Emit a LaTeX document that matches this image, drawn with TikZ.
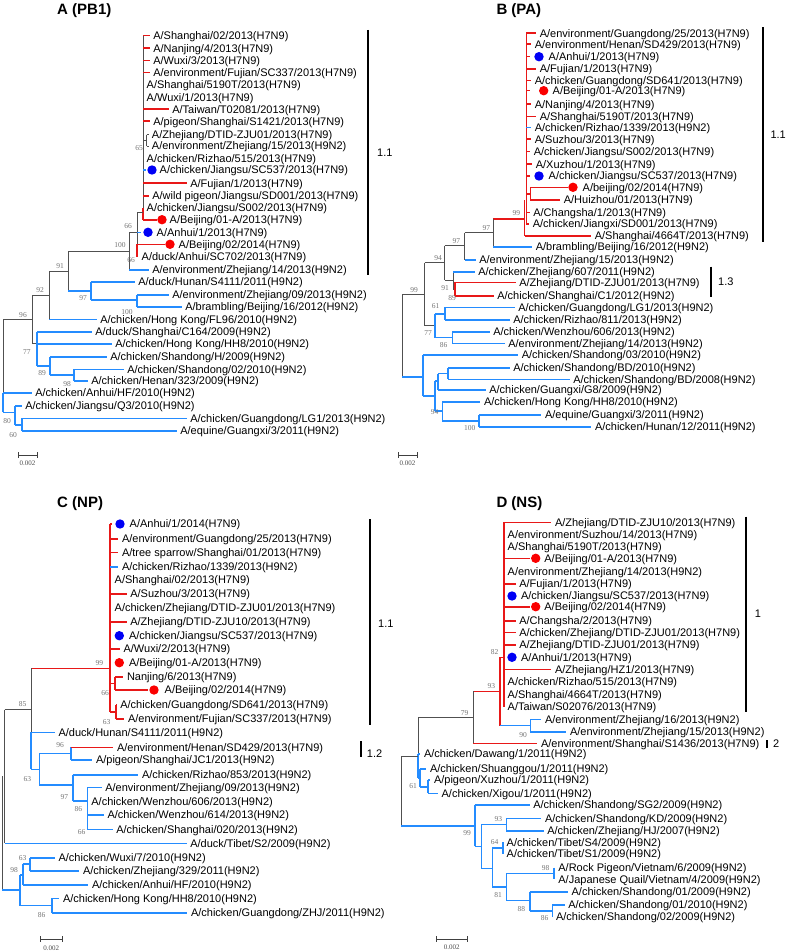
\documentclass[tikz,border=0pt]{standalone}
\usepackage{fontspec}
\setmainfont{Liberation Sans}
\newfontfamily\bootfont{Liberation Serif}
\definecolor{clRed}{RGB}{232,24,24}
\definecolor{clBlue}{RGB}{36,140,255}
\definecolor{clGray}{RGB}{80,80,80}
\definecolor{dotRed}{RGB}{250,0,0}
\definecolor{dotBlue}{RGB}{0,0,245}

\begin{document}
\begin{tikzpicture}[
  x=1pt, y=-1pt,
  lab/.style={anchor=west, inner xsep=3pt, inner ysep=0pt, text height=7.8pt, text depth=0pt, font=\fontsize{11}{12}\selectfont},
  ttl/.style={anchor=west, inner sep=0pt, font=\fontsize{15}{18}\selectfont\bfseries},
  boot/.style={inner sep=0pt, text=black!55, font=\bootfont\fontsize{7.5}{8}\selectfont},
  rb/.style={draw=clRed, line width=1.6pt},
  bb/.style={draw=clBlue, line width=1.6pt},
  gb/.style={draw=clGray, line width=0.9pt},
  rdot/.style={circle, fill=dotRed, inner sep=0pt, minimum size=9.4pt},
  bdot/.style={circle, fill=dotBlue, inner sep=0pt, minimum size=9.4pt},
  cbar/.style={draw=black, line width=1.7pt},
  clab/.style={anchor=west, inner sep=0pt, font=\fontsize{11}{12}\selectfont},
  sbar/.style={draw=black!75, line width=0.8pt},
  slab/.style={inner sep=0pt, text=black!70, font=\bootfont\fontsize{7}{8}\selectfont}
]
\useasboundingbox (0,0) rectangle (787,952);

\node[ttl] (titleA) at (57,11) {A (PB1)};

\draw[gb] (143,35.7) -- (143,207.7);
\draw[rb] (143,207.7) -- (143,219.7);
\draw[rb] (143,35.7) -- (149.5,35.7) node[lab] (a01) {A/Shanghai/02/2013(H7N9)};
\draw[rb] (143,48.3) -- (149.5,48.3) node[lab] (a02) {A/Nanjing/4/2013(H7N9)};
\draw[rb] (143,60.7) -- (149.5,60.7) node[lab] (a03) {A/Wuxi/3/2013(H7N9)};
\draw[rb] (143,72.7) -- (149.5,72.7) node[lab] (a04) {A/environment/Fujian/SC337/2013(H7N9)};
\node[lab] (a05) at (143.5,85) {A/Shanghai/5190T/2013(H7N9)};
\node[lab] (a06) at (143.5,97.3) {A/Wuxi/1/2013(H7N9)};
\draw[rb] (143,109.3) -- (168.5,109.3) node[lab] (a07) {A/Taiwan/T02081/2013(H7N9)};
\draw[rb] (143,121.3) -- (149.5,121.3) node[lab] (a08) {A/pigeon/Shanghai/S1421/2013(H7N9)};
\draw[gb] (143,140.4) -- (146.7,140.4);
\draw[gb] (146.7,134.7) -- (146.7,146);
\draw[gb] (146.7,134.7) -- (148.5,134.7) node[lab] (a09) {A/Zhejiang/DTID-ZJU01/2013(H7N9)};
\draw[gb] (146.7,146) -- (148.5,146) node[lab] (a10) {A/environment/Zhejiang/15/2013(H9N2)};
\node[lab] (a11) at (143.5,158.3) {A/chicken/Rizhao/515/2013(H7N9)};
\draw[bb] (143,170) -- (145.5,170);
\node[bdot] (a12d) at (152,170) {};
\node[lab] (a12) at (156.5,170) {A/chicken/Jiangsu/SC537/2013(H7N9)};
\draw[rb] (143,183.3) -- (186.5,183.3) node[lab] (a13) {A/Fujian/1/2013(H7N9)};
\draw[rb] (143,195.7) -- (148.5,195.7) node[lab] (a14) {A/wild pigeon/Jiangsu/SD001/2013(H7N9)};
\node[lab] (a15) at (143.5,207.7) {A/chicken/Jiangsu/S002/2013(H7N9)};
\draw[rb] (143,219.7) -- (157,219.7);
\node[rdot] (a16d) at (162,219.7) {};
\node[lab] (a16) at (166.5,219.7) {A/Beijing/01-A/2013(H7N9)};

\draw[gb] (137,212) -- (137,244.3);
\draw[gb] (137,212) -- (143,212);
\draw[rb] (137,244.3) -- (137,256.7);
\draw[bb] (137,232.3) -- (140.5,232.3);
\node[bdot] (a17d) at (148,232.3) {};
\node[lab] (a17) at (153.5,232.3) {A/Anhui/1/2013(H7N9)};
\draw[rb] (137,244.3) -- (165,244.3);
\node[rdot] (a18d) at (170,244.3) {};
\node[lab] (a18) at (175.5,244.3) {A/Beijing/02/2014(H7N9)};
\node[lab] (a19) at (138.5,256.7) {A/duck/Anhui/SC702/2013(H7N9)};

\draw[gb] (129.3,232.3) -- (129.3,270);
\draw[gb] (129.3,232.3) -- (137,232.3);
\draw[bb] (129.3,270) -- (148.5,270) node[lab] (a20) {A/environment/Zhejiang/14/2013(H9N2)};
\draw[gb] (68,251) -- (68,291);
\draw[gb] (68,251) -- (129.3,251);
\draw[bb] (68,291) -- (91,291);
\draw[bb] (91,281.7) -- (91,300);
\draw[bb] (91,281.7) -- (134.5,281.7) node[lab] (a21) {A/duck/Hunan/S4111/2011(H9N2)};
\draw[bb] (91,300) -- (137,300);
\draw[bb] (137,295) -- (137,306.7);
\draw[bb] (137,295) -- (168.5,295) node[lab] (a22) {A/environment/Zhejiang/09/2013(H9N2)};
\draw[bb] (137,306.7) -- (181.5,306.7) node[lab] (a23) {A/brambling/Beijing/16/2012(H9N2)};
\draw[gb] (49,271.7) -- (49,319.3);
\draw[gb] (49,271.7) -- (68,271.7);
\draw[bb] (49,319.3) -- (96.5,319.3) node[lab] (a24) {A/chicken/Hong Kong/FL96/2010(H9N2)};
\draw[gb] (32,295.5) -- (32,343);
\draw[gb] (32,295.5) -- (49,295.5);
\draw[gb] (32,343) -- (37,343);
\draw[bb] (37,331.7) -- (37,366);
\draw[bb] (37,331.7) -- (91.5,331.7) node[lab] (a25) {A/duck/Shanghai/C164/2009(H9N2)};
\draw[bb] (37,344) -- (111.5,344) node[lab] (a26) {A/chicken/Hong Kong/HH8/2010(H9N2)};
\draw[bb] (37,366) -- (50,366);
\draw[bb] (50,356.7) -- (50,375);
\draw[bb] (50,356.7) -- (106.5,356.7) node[lab] (a27) {A/chicken/Shandong/H/2009(H9N2)};
\draw[bb] (50,375) -- (74,375);
\draw[bb] (74,369.3) -- (74,380.7);
\draw[bb] (74,369.3) -- (123.5,369.3) node[lab] (a28) {A/chicken/Shandong/02/2010(H9N2)};
\draw[bb] (74,380.7) -- (87.5,380.7) node[lab] (a29) {A/chicken/Henan/323/2009(H9N2)};
\draw[gb] (3,319.3) -- (3,392.7);
\draw[gb] (3,319.3) -- (32,319.3);
\draw[bb] (3,392.7) -- (3,412.4);
\draw[bb] (3,392.7) -- (31.5,392.7) node[lab] (a30) {A/chicken/Anhui/HF/2010(H9N2)};
\draw[bb] (3,412.4) -- (15,412.4);
\draw[bb] (15,406) -- (15,424.7);
\draw[bb] (15,406) -- (21.5,406) node[lab] (a31) {A/chicken/Jiangsu/Q3/2010(H9N2)};
\draw[bb] (15,424.7) -- (22,424.7);
\draw[bb] (22,418.3) -- (22,431);
\draw[bb] (22,418.3) -- (186.5,418.3) node[lab] (a32) {A/chicken/Guangdong/LG1/2013(H9N2)};
\draw[bb] (22,431) -- (176.5,431) node[lab] (a33) {A/equine/Guangxi/3/2011(H9N2)};

\node[boot] (bA1) at (139,148) {65};
\node[boot] (bA2) at (128,226) {66};
\node[boot] (bA3) at (131,260.5) {66};
\node[boot] (bA4) at (120,245) {100};
\node[boot] (bA5) at (60,265.7) {91};
\node[boot] (bA6) at (83,298.3) {97};
\node[boot] (bA7) at (127,311.7) {100};
\node[boot] (bA8) at (40,290) {92};
\node[boot] (bA9) at (23,315) {96};
\node[boot] (bA10) at (27,351.7) {77};
\node[boot] (bA11) at (42,373) {89};
\node[boot] (bA12) at (67,384) {98};
\node[boot] (bA13) at (7,421) {80};
\node[boot] (bA14) at (13,435) {60};

\draw[cbar] (368,30) -- (368,275);
\node[clab] (cA1) at (377,153) {1.1};
\draw[sbar] (18,455) -- (37,455);
\draw[sbar] (18,452) -- (18,458);
\draw[sbar] (37,452) -- (37,458);
\node[slab] (sA) at (27.5,463.5) {0.002};

\node[ttl] (titleB) at (496.3,11) {B (PA)};

\draw[rb] (526.3,33.3) -- (526.3,224);
\draw[rb] (526.3,33.3) -- (536,33.3) node[lab] (b01) {A/environment/Guangdong/25/2013(H7N9)};
\draw[rb] (526.3,44.3) -- (531,44.3) node[lab] (b02) {A/environment/Henan/SD429/2013(H7N9)};
\draw[rb] (526.3,56.7) -- (530,56.7);
\node[bdot] (b03d) at (539,56.7) {};
\node[lab] (b03) at (545.5,56.7) {A/Anhui/1/2013(H7N9)};
\draw[rb] (526.3,69) -- (536,69) node[lab] (b04) {A/Fujian/1/2013(H7N9)};
\draw[rb] (526.3,80.7) -- (531,80.7) node[lab] (b05) {A/chicken/Guangdong/SD641/2013(H7N9)};
\draw[rb] (526.3,90.7) -- (530,90.7);
\node[rdot] (b06d) at (543.7,90.7) {};
\node[lab] (b06) at (549.5,90.7) {A/Beijing/01-A/2013(H7N9)};
\draw[rb] (526.3,104.3) -- (531,104.3) node[lab] (b07) {A/Nanjing/4/2013(H7N9)};
\draw[rb] (526.3,116.7) -- (536,116.7) node[lab] (b08) {A/Shanghai/5190T/2013(H7N9)};
\draw[bb] (526.3,127.7) -- (531,127.7) node[lab] (b09) {A/chicken/Rizhao/1339/2013(H9N2)};
\draw[rb] (526.3,139.3) -- (531,139.3) node[lab] (b10) {A/Suzhou/3/2013(H7N9)};
\draw[rb] (526.3,151.7) -- (530,151.7) node[lab] (b11) {A/chicken/Jiangsu/S002/2013(H7N9)};
\draw[rb] (526.3,164.3) -- (532,164.3) node[lab] (b12) {A/Xuzhou/1/2013(H7N9)};
\draw[rb] (526.3,176) -- (530,176);
\node[bdot] (b13d) at (539,176) {};
\node[lab] (b13) at (545.5,176) {A/chicken/Jiangsu/SC537/2013(H7N9)};
\draw[rb] (526.3,193.7) -- (530.3,193.7);
\draw[rb] (530.3,187.3) -- (530.3,200);
\draw[rb] (530.3,187.3) -- (568,187.3);
\node[rdot] (b14d) at (573,187.3) {};
\node[lab] (b14) at (579.5,187.3) {A/beijing/02/2014(H7N9)};
\draw[rb] (530.3,200) -- (560,200) node[lab] (b15) {A/Huizhou/01/2013(H7N9)};
\draw[rb] (526.3,212.3) -- (529.5,212.3) node[lab] (b16) {A/Changsha/1/2013(H7N9)};
\draw[rb] (526.3,224) -- (529,224) node[lab] (b17) {A/chicken/Jiangxi/SD001/2013(H7N9)};
\draw[rb] (524.5,200) -- (524.5,235.7);
\draw[rb] (524.5,235.7) -- (591,235.7) node[lab] (b18) {A/Shanghai/4664T/2013(H7N9)};
\draw[rb] (493,219) -- (524.5,219);
\draw[gb] (493,219) -- (493,246.7);
\draw[bb] (493,246.7) -- (532,246.7) node[lab] (b19) {A/brambling/Beijing/16/2012(H9N2)};
\draw[gb] (464.7,232.9) -- (493,232.9);
\draw[gb] (464.7,232.9) -- (464.7,260);
\draw[bb] (464.7,260) -- (475.5,260) node[lab] (b20) {A/environment/Zhejiang/15/2013(H9N2)};
\draw[gb] (444.7,245.5) -- (464.7,245.5);
\draw[gb] (444.7,245.5) -- (444.7,280.4);
\draw[gb] (444.7,280.4) -- (453,280.4);
\draw[gb] (453,271.7) -- (453,289);
\draw[bb] (453,271.7) -- (474.5,271.7) node[lab] (b21) {A/chicken/Zhejiang/607/2011(H9N2)};
\draw[gb] (453,289) -- (454.7,289);
\draw[rb] (454.7,282.3) -- (454.7,295.7);
\draw[rb] (454.7,282.3) -- (515.5,282.3) node[lab] (b22) {A/Zhejiang/DTID-ZJU01/2013(H7N9)};
\draw[rb] (454.7,295.7) -- (493.5,295.7) node[lab] (b23) {A/chicken/Shanghai/C1/2012(H9N2)};
\draw[gb] (424.7,262.9) -- (444.7,262.9);
\draw[gb] (424.7,262.9) -- (424.7,325.6);
\draw[gb] (424.7,325.6) -- (434.7,325.6);
\draw[bb] (434.7,313.7) -- (434.7,337.5);
\draw[bb] (434.7,313.7) -- (444.7,313.7);
\draw[bb] (444.7,307.3) -- (444.7,320);
\draw[bb] (444.7,307.3) -- (514.5,307.3) node[lab] (b24) {A/chicken/Guangdong/LG1/2013(H9N2)};
\draw[bb] (444.7,320) -- (509.5,320) node[lab] (b25) {A/chicken/Rizhao/811/2013(H9N2)};
\draw[bb] (434.7,337.5) -- (452.3,337.5);
\draw[bb] (452.3,331.7) -- (452.3,343.3);
\draw[bb] (452.3,331.7) -- (489.5,331.7) node[lab] (b26) {A/chicken/Wenzhou/606/2013(H9N2)};
\draw[bb] (452.3,343.3) -- (504.5,343.3) node[lab] (b27) {A/environment/Zhejiang/14/2013(H9N2)};
\draw[gb] (402.3,294.2) -- (424.7,294.2);
\draw[gb] (402.3,294.2) -- (402.3,376.7);
\draw[bb] (402.3,376.7) -- (423,376.7);
\draw[bb] (423,355) -- (423,396);
\draw[bb] (423,355) -- (518,355) node[lab] (b28) {A/chicken/Shandong/03/2010(H9N2)};
\draw[bb] (423,396) -- (434.7,396);
\draw[bb] (434.7,381) -- (434.7,411.2);
\draw[bb] (434.7,381) -- (438,381);
\draw[bb] (438,373.5) -- (438,390);
\draw[bb] (438,373.5) -- (448,373.5);
\draw[bb] (448,367.7) -- (448,379.3);
\draw[bb] (448,367.7) -- (509.5,367.7) node[lab] (b29) {A/chicken/Shandong/BD/2010(H9N2)};
\draw[bb] (448,379.3) -- (569.5,379.3) node[lab] (b30) {A/chicken/Shandong/BD/2008(H9N2)};
\draw[bb] (438,390) -- (485.5,390) node[lab] (b31) {A/chicken/Guangxi/G8/2009(H9N2)};
\draw[bb] (434.7,411.2) -- (442.3,411.2);
\draw[bb] (442.3,401.7) -- (442.3,420.8);
\draw[bb] (442.3,401.7) -- (480.2,401.7) node[lab] (b32) {A/chicken/Hong Kong/HH8/2010(H9N2)};
\draw[bb] (442.3,420.8) -- (479,420.8);
\draw[bb] (479,415) -- (479,426.7);
\draw[bb] (479,415) -- (541.2,415) node[lab] (b33) {A/equine/Guangxi/3/2011(H9N2)};
\draw[bb] (479,426.7) -- (591.2,426.7) node[lab] (b34) {A/chicken/Hunan/12/2011(H9N2)};

\node[boot] (bB1) at (516.3,213.3) {99};
\node[boot] (bB2) at (486.3,227.7) {97};
\node[boot] (bB3) at (456.3,241) {97};
\node[boot] (bB4) at (438,258.3) {94};
\node[boot] (bB5) at (445,288) {91};
\node[boot] (bB6) at (452,298) {89};
\node[boot] (bB7) at (414,290) {99};
\node[boot] (bB8) at (435.7,306) {61};
\node[boot] (bB9) at (428,333.3) {77};
\node[boot] (bB10) at (443.7,345.5) {86};
\node[boot] (bB11) at (434.7,411.7) {94};
\node[boot] (bB12) at (469.7,427.7) {100};

\draw[cbar] (763,27.3) -- (763,241.7);
\node[clab] (cB1) at (770.3,135) {1.1};
\draw[cbar] (711.3,266.7) -- (711.3,297.3);
\node[clab] (cB2) at (718,281.7) {1.3};
\draw[sbar] (398,455) -- (417,455);
\draw[sbar] (398,452) -- (398,458);
\draw[sbar] (417,452) -- (417,458);
\node[slab] (sB) at (407.5,463.5) {0.002};

\node[ttl] (titleC) at (57,503.3) {C (NP)};

\draw[rb] (110,524) -- (110,712);
\draw[rb] (31,668.3) -- (110,668.3);
\draw[rb] (110,524) -- (112,524);
\node[bdot] (c01d) at (120,524) {};
\node[lab] (c01) at (126.5,524) {A/Anhui/1/2014(H7N9)};
\draw[rb] (110,539) -- (118.2,539) node[lab] (c02) {A/environment/Guangdong/25/2013(H7N9)};
\draw[rb] (110,552.3) -- (118.2,552.3) node[lab] (c03) {A/tree sparrow/Shanghai/01/2013(H7N9)};
\draw[bb] (110,566.7) -- (118.2,566.7) node[lab] (c04) {A/chicken/Rizhao/1339/2013(H9N2)};
\node[lab] (c05) at (111.5,580) {A/Shanghai/02/2013(H7N9)};
\draw[rb] (110,594) -- (126.5,594) node[lab] (c06) {A/Suzhou/3/2013(H7N9)};
\node[lab] (c07) at (111.5,607.3) {A/chicken/Zhejiang/DTID-ZJU01/2013(H7N9)};
\draw[rb] (110,621.7) -- (126.5,621.7) node[lab] (c08) {A/Zhejiang/DTID-ZJU10/2013(H7N9)};
\node[bdot] (c09d) at (119.3,635.7) {};
\node[lab] (c09) at (125.8,635.7) {A/chicken/Jiangsu/SC537/2013(H7N9)};
\draw[rb] (110,649) -- (119.8,649) node[lab] (c10) {A/Wuxi/2/2013(H7N9)};
\node[rdot] (c11d) at (119.3,662.7) {};
\node[lab] (c11) at (125.8,662.7) {A/Beijing/01-A/2013(H7N9)};
\draw[rb] (110,683.3) -- (115,683.3);
\draw[rb] (115,676.7) -- (115,690);
\draw[rb] (115,676.7) -- (123.2,676.7) node[lab] (c12) {Nanjing/6/2013(H7N9)};
\draw[rb] (115,690) -- (148,690);
\node[rdot] (c13d) at (154,690) {};
\node[lab] (c13) at (161.5,690) {A/Beijing/02/2014(H7N9)};
\draw[rb] (110,712) -- (116,712);
\draw[rb] (116,705) -- (116,719);
\draw[rb] (116,705) -- (116.5,705) node[lab] (c14) {A/chicken/Guangdong/SD641/2013(H7N9)};
\draw[rb] (116,719) -- (124.2,719) node[lab] (c15) {A/environment/Fujian/SC337/2013(H7N9)};

\draw[gb] (31,668.3) -- (31,732.3);
\draw[bb] (31,732.3) -- (31,769.3);
\draw[bb] (31,732.3) -- (54.8,732.3) node[lab] (c16) {A/duck/Hunan/S4111/2011(H9N2)};
\draw[bb] (31,769.3) -- (39.3,769.3);
\draw[bb] (39.3,753.3) -- (39.3,785);
\draw[bb] (39.3,753.3) -- (70.7,753.3);
\draw[bb] (70.7,747.3) -- (70.7,760);
\draw[rb] (70.7,747.3) -- (113.2,747.3) node[lab] (c17) {A/environment/Henan/SD429/2013(H7N9)};
\draw[bb] (70.7,760) -- (92.2,760) node[lab] (c18) {A/pigeon/Shanghai/JC1/2013(H9N2)};
\draw[bb] (39.3,785) -- (72.7,785);
\draw[bb] (72.7,775) -- (72.7,800.7);
\draw[bb] (72.7,775) -- (138.2,775) node[lab] (c19) {A/chicken/Rizhao/853/2013(H9N2)};
\draw[bb] (72.7,800.7) -- (87.3,800.7);
\draw[bb] (87.3,787.3) -- (87.3,829.3);
\draw[bb] (87.3,787.3) -- (101.5,787.3) node[lab] (c20) {A/environment/Zhejiang/09/2013(H9N2)};
\node[lab] (c21) at (88.2,801.7) {A/chicken/Wenzhou/606/2013(H9N2)};
\draw[bb] (87.3,815) -- (103.8,815) node[lab] (c22) {A/chicken/Wenzhou/614/2013(H9N2)};
\draw[bb] (87.3,829.3) -- (112.5,829.3) node[lab] (c23) {A/chicken/Shanghai/020/2013(H9N2)};
\draw[gb] (4.5,709.5) -- (31,709.5);
\draw[gb] (4.5,709.5) -- (4.5,843.3);
\draw[bb] (4.5,843.3) -- (186.5,843.3) node[lab] (c24) {A/duck/Tibet/S2/2009(H9N2)};
\draw[gb] (2,776.4) -- (2,890);
\draw[bb] (2,890) -- (20,890);
\draw[bb] (20,875) -- (20,905.5);
\draw[bb] (20,875) -- (22.7,875);
\draw[bb] (22.7,864) -- (22.7,885);
\draw[bb] (22.7,864) -- (30,864);
\draw[bb] (30,857.7) -- (30,870.7);
\draw[bb] (30,857.7) -- (54.8,857.7) node[lab] (c25) {A/chicken/Wuxi/7/2010(H9N2)};
\draw[bb] (30,870.7) -- (79.2,870.7) node[lab] (c26) {A/chicken/Zhejiang/329/2011(H9N2)};
\draw[bb] (22.7,885) -- (88.2,885) node[lab] (c27) {A/chicken/Anhui/HF/2010(H9N2)};
\draw[bb] (20,905.5) -- (51.7,905.5);
\draw[bb] (51.7,898.3) -- (51.7,912.7);
\draw[bb] (51.7,898.3) -- (59.2,898.3) node[lab] (c28) {A/chicken/Hong Kong/HH8/2010(H9N2)};
\draw[bb] (51.7,912.7) -- (187.2,912.7) node[lab] (c29) {A/chicken/Guangdong/ZHJ/2011(H9N2)};

\node[boot] (bC1) at (99.3,662.7) {99};
\node[boot] (bC2) at (105,693.3) {66};
\node[boot] (bC3) at (106.7,721.7) {63};
\node[boot] (bC4) at (22.7,704) {85};
\node[boot] (bC5) at (60,745) {96};
\node[boot] (bC6) at (27.3,779) {63};
\node[boot] (bC7) at (64.3,796.7) {97};
\node[boot] (bC8) at (78.3,809.3) {86};
\node[boot] (bC9) at (81.7,831.7) {66};
\node[boot] (bC10) at (22.7,858.3) {63};
\node[boot] (bC11) at (14,870) {98};
\node[boot] (bC12) at (41.7,915) {86};

\draw[cbar] (370,519.3) -- (370,725);
\node[clab] (cC1) at (378,623.3) {1.1};
\draw[cbar] (360.7,741) -- (360.7,757.3);
\node[clab] (cC2) at (366.7,753.3) {1.2};
\draw[sbar] (40,939.3) -- (62.7,939.3);
\draw[sbar] (40,936.3) -- (40,942.3);
\draw[sbar] (62.7,936.3) -- (62.7,942.3);
\node[slab] (sC) at (51.3,948.3) {0.002};

\node[ttl] (titleD) at (496.3,503.3) {D (NS)};

\draw[rb] (503.7,522.3) -- (503.7,706.7);
\draw[rb] (503.7,522.3) -- (551.2,522.3) node[lab] (d01) {A/Zhejiang/DTID-ZJU10/2013(H7N9)};
\node[lab] (d02) at (504.5,535) {A/environment/Suzhou/14/2013(H7N9)};
\node[lab] (d03) at (504.5,546.7) {A/Shanghai/5190T/2013(H7N9)};
\draw[rb] (503.7,558.3) -- (530.3,558.3);
\node[rdot] (d04d) at (535.7,558.3) {};
\node[lab] (d04) at (541.2,558.3) {A/Beijing/01-A/2013(H7N9)};
\node[lab] (d05) at (504.5,571.7) {A/environment/Zhejiang/14/2013(H9N2)};
\draw[rb] (503.7,584) -- (515.5,584) node[lab] (d06) {A/Fujian/1/2013(H7N9)};
\node[bdot] (d07d) at (512,596) {};
\node[lab] (d07) at (517.8,596) {A/chicken/Jiangsu/SC537/2013(H7N9)};
\draw[rb] (503.7,606.7) -- (530.3,606.7);
\node[rdot] (d08d) at (535.7,606.7) {};
\node[lab] (d08) at (541.2,606.7) {A/Beijing/02/2014(H7N9)};
\draw[rb] (503.7,620.7) -- (515.5,620.7) node[lab] (d09) {A/Changsha/2/2013(H7N9)};
\draw[rb] (503.7,632.3) -- (515.5,632.3) node[lab] (d10) {A/chicken/Zhejiang/DTID-ZJU01/2013(H7N9)};
\draw[rb] (503.7,645) -- (515.5,645) node[lab] (d11) {A/Zhejiang/DTID-ZJU01/2013(H7N9)};
\node[bdot] (d12d) at (512,657.3) {};
\node[lab] (d12) at (517.8,657.3) {A/Anhui/1/2013(H7N9)};
\draw[rb] (503.7,669.3) -- (551.2,669.3) node[lab] (d13) {A/Zhejiang/HZ1/2013(H7N9)};
\node[lab] (d14) at (504.5,681.7) {A/chicken/Rizhao/515/2013(H7N9)};
\node[lab] (d15) at (504.5,694.3) {A/Shanghai/4664T/2013(H7N9)};
\node[lab] (d16) at (504.5,706.7) {A/Taiwan/S02076/2013(H7N9)};

\draw[rb] (499.7,657.3) -- (503.7,657.3);
\draw[rb] (499.7,657.3) -- (499.7,725.5);
\draw[bb] (499.7,725.5) -- (530.3,725.5);
\draw[bb] (530.3,719.3) -- (530.3,731.7);
\draw[bb] (530.3,719.3) -- (541.2,719.3) node[lab] (d17) {A/environment/Zhejiang/16/2013(H9N2)};
\draw[bb] (530.3,731.7) -- (566.2,731.7) node[lab] (d18) {A/environment/Zhejiang/15/2013(H9N2)};
\draw[rb] (473,691.4) -- (499.7,691.4);
\draw[gb] (473,691.4) -- (473,743.3);
\draw[rb] (473,743.3) -- (537.2,743.3) node[lab] (d19) {A/environment/Shanghai/S1436/2013(H7N9)};
\draw[gb] (418,717.4) -- (473,717.4);
\draw[gb] (418,717.4) -- (418,754);
\draw[bb] (418,754) -- (418,778);
\draw[bb] (418,754) -- (420.2,754) node[lab] (d20) {A/chicken/Dawang/1/2011(H9N2)};
\draw[bb] (418,778) -- (419.7,778);
\draw[bb] (419.7,769) -- (419.7,786.7);
\draw[bb] (419.7,769) -- (426.2,769) node[lab] (d21) {A/chicken/Shuanggou/1/2011(H9N2)};
\draw[bb] (419.7,786.7) -- (428,786.7);
\draw[bb] (428,780) -- (428,793.3);
\draw[bb] (428,780) -- (430.2,780) node[lab] (d22) {A/pigeon/Xuzhou/1/2011(H9N2)};
\draw[bb] (428,793.3) -- (437.8,793.3) node[lab] (d23) {A/chicken/Xigou/1/2011(H9N2)};
\draw[gb] (401.3,756.7) -- (418,756.7);
\draw[gb] (401.3,756.7) -- (401.3,826);
\draw[bb] (401.3,826) -- (474.7,826);
\draw[bb] (474.7,805) -- (474.7,846.4);
\draw[bb] (474.7,805) -- (529.5,805) node[lab] (d24) {A/chicken/Shandong/SG2/2009(H9N2)};
\draw[bb] (474.7,846.4) -- (481.3,846.4);
\draw[bb] (481.3,824.5) -- (481.3,868.3);
\draw[bb] (481.3,824.5) -- (506.3,824.5);
\draw[bb] (506.3,818.3) -- (506.3,830.7);
\draw[bb] (506.3,818.3) -- (541.2,818.3) node[lab] (d25) {A/chicken/Shandong/KD/2009(H9N2)};
\draw[bb] (506.3,830.7) -- (543.5,830.7) node[lab] (d26) {A/chicken/Zhejiang/HJ/2007(H9N2)};
\draw[bb] (481.3,868.3) -- (492.3,868.3);
\draw[bb] (492.3,848.2) -- (492.3,887);
\draw[bb] (492.3,848.2) -- (503,848.2);
\draw[bb] (503,842.3) -- (503,854);
\node[lab] (d27) at (503.5,842.3) {A/chicken/Tibet/S4/2009(H9N2)};
\node[lab] (d28) at (503.5,854) {A/chicken/Tibet/S1/2009(H9N2)};
\draw[bb] (492.3,887) -- (506.3,887);
\draw[bb] (506.3,873.5) -- (506.3,900.5);
\draw[bb] (506.3,873.5) -- (554,873.5);
\draw[bb] (554,867.7) -- (554,879.3);
\node[lab] (d29) at (555.2,867.7) {A/Rock Pigeon/Vietnam/6/2009(H9N2)};
\node[lab] (d30) at (555.2,879.3) {A/Japanese Quail/Vietnam/4/2009(H9N2)};
\draw[bb] (506.3,900.5) -- (529.7,900.5);
\draw[bb] (529.7,891.7) -- (529.7,910.8);
\draw[bb] (529.7,891.7) -- (567.8,891.7) node[lab] (d31) {A/chicken/Shandong/01/2009(H9N2)};
\draw[bb] (529.7,910.8) -- (552.3,910.8);
\draw[bb] (552.3,905) -- (552.3,916.7);
\draw[bb] (552.3,905) -- (564.5,905) node[lab] (d32) {A/chicken/Shandong/01/2010(H9N2)};
\node[lab] (d33) at (552.8,916.7) {A/chicken/Shandong/02/2009(H9N2)};

\node[boot] (bD1) at (494.7,652.3) {82};
\node[boot] (bD2) at (491.3,685.7) {93};
\node[boot] (bD3) at (523,735) {90};
\node[boot] (bD4) at (464.7,713.3) {79};
\node[boot] (bD5) at (413,786) {61};
\node[boot] (bD6) at (467,833.3) {99};
\node[boot] (bD7) at (498.3,819) {93};
\node[boot] (bD8) at (494.7,842.3) {64};
\node[boot] (bD9) at (498,895) {81};
\node[boot] (bD10) at (545.7,868.3) {98};
\node[boot] (bD11) at (521.3,909.3) {88};
\node[boot] (bD12) at (544.7,918.3) {86};

\draw[cbar] (746.3,516.7) -- (746.3,711.7);
\node[clab] (cD1) at (754.7,614) {1};
\draw[cbar] (767,740) -- (767,748.3);
\node[clab] (cD2) at (773,743.3) {2};
\draw[sbar] (436.3,939.3) -- (467,939.3);
\draw[sbar] (436.3,936.3) -- (436.3,942.3);
\draw[sbar] (467,936.3) -- (467,942.3);
\node[slab] (sD) at (451.7,947.7) {0.002};

\end{tikzpicture}
\end{document}
